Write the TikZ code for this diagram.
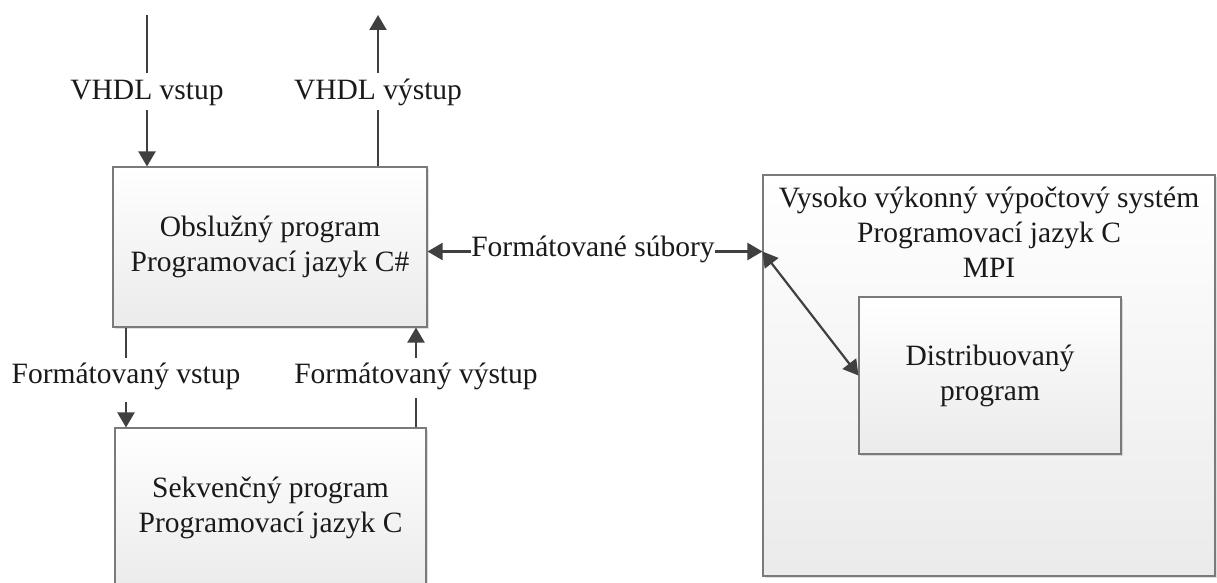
\documentclass[tikz,border=0pt]{standalone}
\usepackage{fontspec}
\setmainfont{Liberation Serif}
\usetikzlibrary{arrows.meta,shadows}
\definecolor{linegray}{HTML}{404040}
\definecolor{boxedge}{HTML}{7A7A7A}
\definecolor{ink}{HTML}{1A1A1A}
\begin{document}
\begin{tikzpicture}[x=1pt,y=-1pt,
  every node/.style={text=ink, font=\fontsize{29.5}{35}\selectfont},
  block/.style={draw=boxedge, line width=1.1pt, shading=axis, top color=white,
    bottom color=black!8, align=center, inner sep=0pt,
    drop shadow={opacity=0.25, shadow xshift=2pt, shadow yshift=-2pt}},
  wire/.style={draw=linegray, line width=2.2pt},
  flow/.style={wire, -{Triangle[length=15pt,width=17pt]}},
  backflow/.style={wire, {Triangle[length=15pt,width=17pt]}-},
  tag/.style={anchor=base, inner xsep=1pt, inner ysep=0pt}]
\useasboundingbox (0,0) rectangle (1217,583);
\clip (0,0) rectangle (1217,583);
\fill[white] (0,0) rectangle (1217,583);

% boxes
\node[block, minimum width=314pt, minimum height=160pt] (A) at (270,247)
  {Obslužný program\\Programovací jazyk C\#};
\node[block, minimum width=311pt, minimum height=160pt] (B) at (270.5,508)
  {Sekvenčný program\\Programovací jazyk C};
\node[block, minimum width=452pt, minimum height=401pt] (C) at (989,375.5) {};
\node[anchor=north, align=center, inner sep=0pt] (Ct) at (989,187)
  {Vysoko výkonný výpočtový systém\\Programovací jazyk C\\MPI};
\node[block, minimum width=262pt, minimum height=157pt] (D) at (990,375.5)
  {Distribuovaný\\program};

% connector labels
\node[tag, text height=27pt, text depth=10pt] (Lvin)  at (147,100) {VHDL vstup};
\node[tag, text height=27pt, text depth=10pt] (Lvout) at (378,100) {VHDL výstup};
\node[tag, text height=25pt, text depth=19pt] (Lfin)  at (126,383) {Formátovaný vstup};
\node[tag, text height=25pt, text depth=15pt] (Lfout) at (416,383) {Formátovaný výstup};
\node[tag, text height=9pt, text depth=0pt, inner xsep=0.5pt] (Lfiles) at (593,256)
  {Formátované súbory};

% free ends and junctions
\coordinate (vin) at (147,15);
\coordinate (vout) at (378,15);
\coordinate (cin) at (Lfiles.east -| C.west);

% VHDL input / output
\draw[wire] (vin) -- (Lvin.north);
\draw[flow] (Lvin.south) -- (Lvin.south |- A.north);
\draw[wire] (Lvout.south |- A.north) -- (Lvout.south);
\draw[flow] (Lvout.north) -- (vout);

% formatted input / output between the two programs
\draw[wire] (Lfin.north |- A.south) -- (Lfin.north);
\draw[flow] (Lfin.south) -- (Lfin.south |- B.north);
\draw[wire] (Lfout.south |- B.north) -- (Lfout.south);
\draw[flow] (Lfout.north) -- (Lfout.north |- A.south);

% formatted files exchanged with the HPC system
\draw[backflow] (Lfiles.west -| A.east) -- (Lfiles.west);
\draw[flow] (Lfiles.east) -- (cin);
\draw[wire, {Triangle[length=15pt,width=17pt]}-{Triangle[length=15pt,width=17pt]}]
  (cin) -- (D.west);
\end{tikzpicture}
\end{document}
